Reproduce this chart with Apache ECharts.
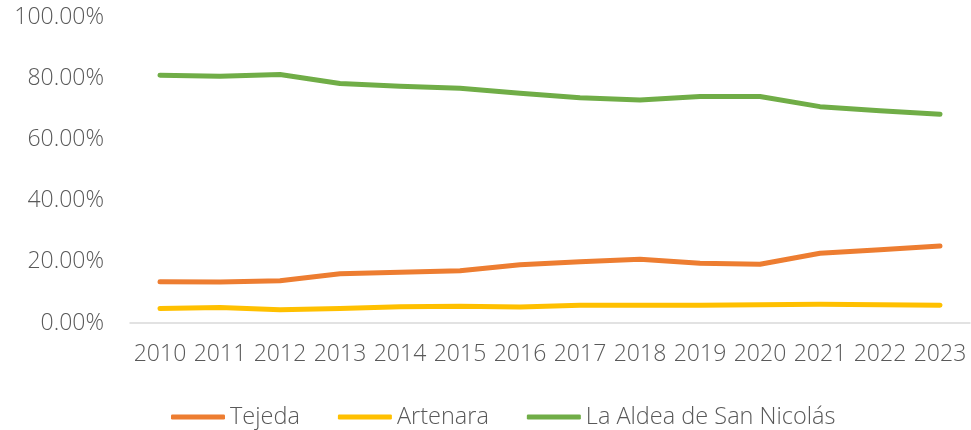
<!DOCTYPE html>
<html>
<head>
<meta charset="utf-8">
<script src="https://cdn.jsdelivr.net/npm/echarts@6/dist/echarts.min.js"></script>
<style>
  html, body { margin: 0; padding: 0; background: #fff; }
  #chart { width: 971px; height: 430px; }
</style>
</head>
<body>
<div id="chart"></div>
<script>
// years on the x axis
const years = ['2010', '2011', '2012', '2013', '2014', '2015', '2016', '2017', '2018', '2019', '2020', '2021', '2022', '2023'];

// share values (%)
const tejeda = [13.5, 13.4, 13.8, 16.1, 16.6, 17.1, 19.0, 20.0, 20.8, 19.5, 19.2, 22.8, 23.9, 25.2];
const artenara = [4.7, 5.1, 4.3, 4.7, 5.3, 5.5, 5.2, 5.8, 5.8, 5.8, 6.0, 6.1, 6.0, 5.8];
const laAldea = [81.0, 80.6, 81.2, 78.3, 77.4, 76.7, 75.1, 73.6, 72.9, 74.0, 74.0, 70.7, 69.4, 68.2];

const fontFamily = '"Open Sans", sans-serif';
const textColor = '#595959';

let chart = echarts.init(document.getElementById('chart'));

function lineSeries(name, data, color) {
    return {
        name: name,
        type: 'line',
        data: data,
        symbol: 'none',
        smooth: false,
        lineStyle: {width: 5, color: color, cap: 'round', join: 'round'},
        itemStyle: {color: color}
    };
}

let option = {
    animation: false,
    grid: {
        left: 130,
        right: 1,
        top: 17,
        bottom: 107
    },
    legend: {
        top: 400,
        left: 166,
        itemWidth: 54,
        itemHeight: 5,
        itemGap: 38,
        icon: 'roundRect',
        textStyle: {fontFamily: fontFamily, fontWeight: 300, fontSize: 23.5, color: textColor},
        data: ['Tejeda', 'Artenara', 'La Aldea de San Nicolás']
    },
    xAxis: {
        type: 'category',
        data: years,
        boundaryGap: true,
        axisLine: {lineStyle: {color: '#d9d9d9', width: 1.5}},
        axisTick: {show: false},
        axisLabel: {interval: 0, fontFamily: fontFamily, fontWeight: 300, fontSize: 23, color: textColor, margin: 20}
    },
    yAxis: {
        type: 'value',
        min: 0,
        max: 100,
        interval: 20,
        splitLine: {show: false},
        axisLine: {show: false},
        axisTick: {show: false},
        axisLabel: {
            fontFamily: fontFamily,
            fontWeight: 300,
            fontSize: 23,
            color: textColor,
            margin: 26,
            formatter: function (v) { return v.toFixed(2) + '%'; }
        }
    },
    series: [
        lineSeries('Tejeda', tejeda, '#ED7D31'),
        lineSeries('Artenara', artenara, '#FFC000'),
        lineSeries('La Aldea de San Nicolás', laAldea, '#70AD47')
    ]
};

chart.setOption(option);
</script>
</body>
</html>
